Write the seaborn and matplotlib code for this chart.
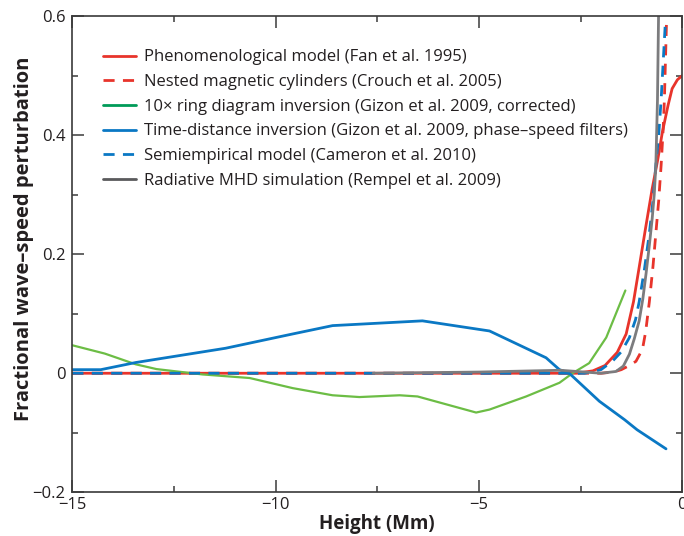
import numpy as np
import pandas as pd
import matplotlib
matplotlib.use("Agg")
import matplotlib.pyplot as plt
from matplotlib.lines import Line2D
from matplotlib.ticker import MultipleLocator
import seaborn as sns

# Series (height in Mm, fractional perturbation)
fan_x = [-15, -8, -3, -2.6, -2.2, -1.9, -1.6, -1.38, -1.2, -1.06, -0.9, -0.74,
         -0.6, -0.49, -0.35, -0.25, -0.12, 0.0]
fan_y = [0, 0, 0, 0.0, 0.004, 0.013, 0.035, 0.066, 0.12, 0.178, 0.245, 0.31,
         0.36, 0.405, 0.45, 0.478, 0.493, 0.5]

crouch_x = [-15, -3, -2, -1.7, -1.5, -1.3, -1.14, -0.98, -0.9, -0.81, -0.72,
            -0.65, -0.58, -0.52, -0.47, -0.44, -0.39]
crouch_y = [0, 0, 0, 0.002, 0.006, 0.013, 0.02, 0.04, 0.07, 0.12, 0.18,
            0.235, 0.29, 0.35, 0.41, 0.46, 0.585]

ring_x = [-15, -14.2, -13.44, -12.93, -11.8, -10.64, -9.58, -8.6, -7.94, -6.95,
          -6.51, -5.07, -4.74, -3.84, -3.02, -2.7, -2.29, -1.87, -1.4]
ring_y = [0.047, 0.033, 0.015, 0.007, -0.002, -0.008, -0.025, -0.037, -0.04, -0.037,
          -0.039, -0.066, -0.061, -0.039, -0.016, 0.0, 0.017, 0.06, 0.139]

td_x = [-15, -14.3, -13.44, -11.23, -9.58, -8.6, -6.39, -4.74, -3.35, -3.02,
        -2.78, -2.04, -1.42, -1.11, -0.4]
td_y = [0.006, 0.006, 0.018, 0.042, 0.066, 0.08, 0.088, 0.071, 0.026, 0.006,
        0.0, -0.047, -0.078, -0.095, -0.127]

cam_x = [-15, -3, -2.4, -2.0, -1.72, -1.5, -1.3, -1.15, -1.06, -0.93, -0.81,
         -0.72, -0.65, -0.58, -0.52, -0.42]
cam_y = [0, 0, 0.0, 0.006, 0.02, 0.036, 0.06, 0.09, 0.12, 0.175, 0.235,
         0.29, 0.35, 0.4, 0.46, 0.585]

mhd_x = [-7.6, -5, -3, -2.4, -2.0, -1.63, -1.45, -1.3, -1.18, -1.06, -0.97,
         -0.89, -0.81, -0.74, -0.69, -0.65, -0.61, -0.58]
mhd_y = [0, 0.002, 0.005, 0.002, 0.0, 0.003, 0.012, 0.032, 0.058, 0.088, 0.125,
         0.168, 0.215, 0.26, 0.3, 0.35, 0.46, 0.62]

labels = [
    "Phenomenological model (Fan et al. 1995)",
    "Nested magnetic cylinders (Crouch et al. 2005)",
    "10\u00d7 ring diagram inversion (Gizon et al. 2009, corrected)",
    "Time-distance inversion (Gizon et al. 2009, phase\u2013speed filters)",
    "Semiempirical model (Cameron et al. 2010)",
    "Radiative MHD simulation (Rempel et al. 2009)",
]

red = "#e8342b"
blue = "#0a78c4"
green_line = "#6cbd45"
green_leg = "#009b58"
gray = "#7c7c7e"
gray_leg = "#5a5a5c"
txt = "#231f20"
dash = (0, (4, 3))

sns.set_style("ticks")
plt.rcParams["font.family"] = ["Open Sans", "DejaVu Sans"]

fig = plt.figure(figsize=(6.84, 5.36), dpi=100)
ax = fig.add_axes([0.1057, 0.0815, 0.8918, 0.8886])

lw = 2.0
sns.lineplot(x=fan_x, y=fan_y, ax=ax, color=red, lw=lw, sort=False)
sns.lineplot(x=crouch_x, y=crouch_y, ax=ax, color=red, lw=lw, sort=False, linestyle=dash)
sns.lineplot(x=ring_x, y=ring_y, ax=ax, color=green_line, lw=1.6, sort=False)
sns.lineplot(x=td_x, y=td_y, ax=ax, color=blue, lw=lw, sort=False)
sns.lineplot(x=cam_x, y=cam_y, ax=ax, color=blue, lw=lw, sort=False, linestyle=dash)
sns.lineplot(x=mhd_x, y=mhd_y, ax=ax, color=gray, lw=lw, sort=False)

ax.set_xlim(-15, 0)
ax.set_ylim(-0.2, 0.6)
ax.xaxis.set_minor_locator(MultipleLocator(2.5))
ax.yaxis.set_minor_locator(MultipleLocator(0.1))
ax.set_xticks([-15, -10, -5, 0])
ax.set_xticklabels(["\u221215", "\u221210", "\u22125", "0"])
ax.set_yticks([-0.2, 0, 0.2, 0.4, 0.6])
ax.set_yticklabels(["\u22120.2", "0", "0.2", "0.4", "0.6"])

ax.tick_params(which="both", direction="in", top=True, right=True, color="#3a3a3a",
               labelsize=12, labelcolor=txt)
ax.tick_params(axis="x", which="both", pad=3.5)
ax.tick_params(axis="y", which="both", pad=5)
ax.tick_params(which="major", length=8.5, width=1.1)
ax.tick_params(which="minor", length=4.5, width=1.1)
for s in ax.spines.values():
    s.set_linewidth(1.2)
    s.set_color("#3a3a3a")

ax.set_xlabel("Height (Mm)", fontsize=13.5, fontweight="bold", color=txt)
ax.set_ylabel("Fractional wave\u2013speed perturbation", fontsize=14.5, fontweight="bold",
              color=txt)
ax.xaxis.set_label_coords(0.5, -0.045)
ax.yaxis.set_label_coords(-0.062, 0.532)

handles = [
    Line2D([], [], color=red, lw=lw),
    Line2D([], [], color=red, lw=lw, linestyle=dash),
    Line2D([], [], color=green_leg, lw=lw),
    Line2D([], [], color=blue, lw=lw),
    Line2D([], [], color=blue, lw=lw, linestyle=dash),
    Line2D([], [], color=gray_leg, lw=lw),
]
leg = ax.legend(handles, labels, loc="upper left", bbox_to_anchor=(0.05, 0.93),
                frameon=False, fontsize=12, handlelength=2.0, handletextpad=0.5,
                labelspacing=0.52, borderaxespad=0, borderpad=0)
for t in leg.get_texts():
    t.set_color(txt)

fig.savefig("out.png", dpi=100)
